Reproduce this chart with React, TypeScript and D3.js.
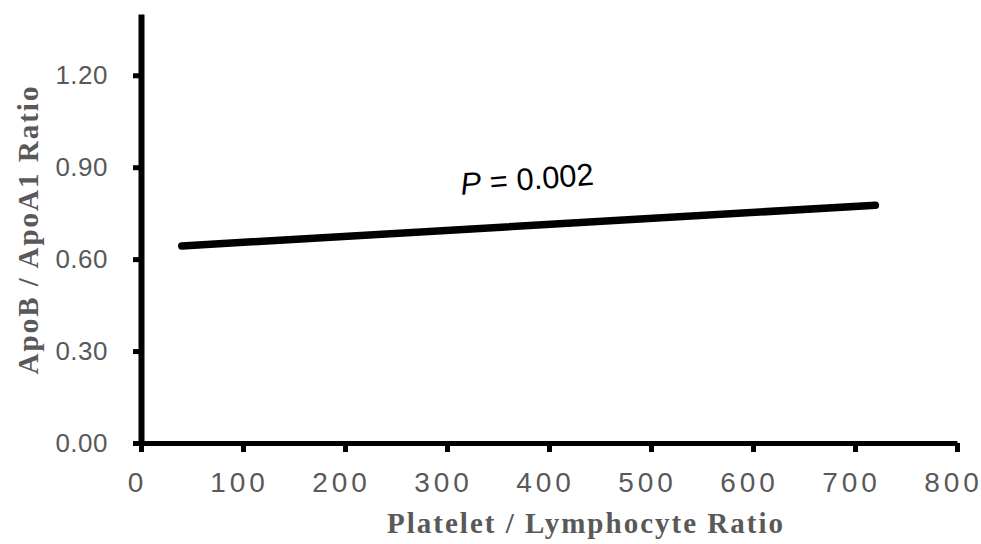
import React, { useRef, useEffect } from 'react';
import * as d3 from 'd3';

// fitted trend line (two end points)
const plrValues = [40, 720];
const ratioValues = [0.643, 0.776];

const xTicks = [0, 100, 200, 300, 400, 500, 600, 700, 800];
const yTicks = [0, 0.3, 0.6, 0.9, 1.2];

const xTitle = 'Platelet / Lymphocyte Ratio';
const yTitle = 'ApoB / ApoA1 Ratio';
const pLabel = '0.002';

const App: React.FC = () => {
  const svgRef = useRef<SVGSVGElement | null>(null);

  useEffect(() => {
    if (!svgRef.current) return;
    const svg = d3.select(svgRef.current);
    svg.selectAll('*').remove();

    const width = 981;
    const height = 544;
    const margin = { top: 14, right: 24, bottom: 101, left: 141 };

    const xScale = d3.scaleLinear()
      .domain([0, 800])
      .range([margin.left, width - margin.right]);

    const yScale = d3.scaleLinear()
      .domain([0, 1.4])
      .range([height - margin.bottom, margin.top]);

    const grey = '#595959';

    // x axis
    const xAxis = d3.axisBottom(xScale)
      .tickValues(xTicks)
      .tickSize(9)
      .tickSizeOuter(0)
      .tickPadding(12)
      .tickFormat(d => d3.format('d')(d as number));

    const gx = svg.append('g')
      .attr('transform', `translate(0, ${yScale(0)})`)
      .call(xAxis);
    gx.select('.domain').attr('stroke', '#000').attr('stroke-width', 5);
    gx.selectAll('.tick line').attr('stroke', '#000').attr('stroke-width', 5);
    gx.selectAll('.tick text')
      .attr('fill', grey)
      .attr('font-family', 'Liberation Sans, Arial, sans-serif')
      .attr('font-size', 28)
      .attr('letter-spacing', 4)
      .attr('dx', -4)
      .attr('dy', '1em');

    // y axis
    const yAxis = d3.axisLeft(yScale)
      .tickValues(yTicks)
      .tickSize(8)
      .tickSizeOuter(0)
      .tickPadding(25)
      .tickFormat(d => d3.format('.2f')(d as number));

    const gy = svg.append('g')
      .attr('transform', `translate(${xScale(0)}, 0)`)
      .call(yAxis);
    gy.select('.domain').attr('stroke', '#000').attr('stroke-width', 6);
    gy.selectAll('.tick line').attr('stroke', '#000').attr('stroke-width', 5);
    gy.selectAll('.tick text')
      .attr('fill', grey)
      .attr('font-family', 'Liberation Sans, Arial, sans-serif')
      .attr('font-size', 26)
      .attr('letter-spacing', 0.5);

    // trend line
    const pts: [number, number][] = plrValues.map((v, i) => [v, ratioValues[i]]);
    const line = d3.line<[number, number]>()
      .x(d => xScale(d[0]))
      .y(d => yScale(d[1]));

    svg.append('path')
      .datum(pts)
      .attr('d', line)
      .attr('fill', 'none')
      .attr('stroke', '#000')
      .attr('stroke-width', 7.5)
      .attr('stroke-linecap', 'round');

    // p value label
    const pt = svg.append('text')
      .attr('transform', `translate(${xScale(314)}, ${yScale(0.81)}) rotate(-4.3)`)
      .attr('font-family', 'Liberation Sans, Arial, sans-serif')
      .attr('font-size', 31)
      .attr('fill', '#000');
    pt.append('tspan').attr('font-style', 'italic').text('P');
    pt.append('tspan').text(` = ${pLabel}`);

    // axis titles
    svg.append('text')
      .attr('x', 586)
      .attr('y', 533)
      .attr('text-anchor', 'middle')
      .attr('font-family', 'Liberation Serif, Times New Roman, serif')
      .attr('font-weight', 'bold')
      .attr('font-size', 29)
      .attr('letter-spacing', 2)
      .attr('fill', grey)
      .text(xTitle);

    svg.append('text')
      .attr('transform', `translate(38, ${(yScale(0) + yScale(1.4)) / 2 + 1}) rotate(-90)`)
      .attr('text-anchor', 'middle')
      .attr('font-family', 'Liberation Serif, Times New Roman, serif')
      .attr('font-weight', 'bold')
      .attr('font-size', 29)
      .attr('letter-spacing', 2)
      .attr('fill', grey)
      .text(yTitle);
  }, []);

  return (
    <div style={{ position: 'absolute', left: 0, top: 0, background: '#fff' }}>
      <svg ref={svgRef} width={981} height={544} style={{ display: 'block' }} />
    </div>
  );
};

export default App;
